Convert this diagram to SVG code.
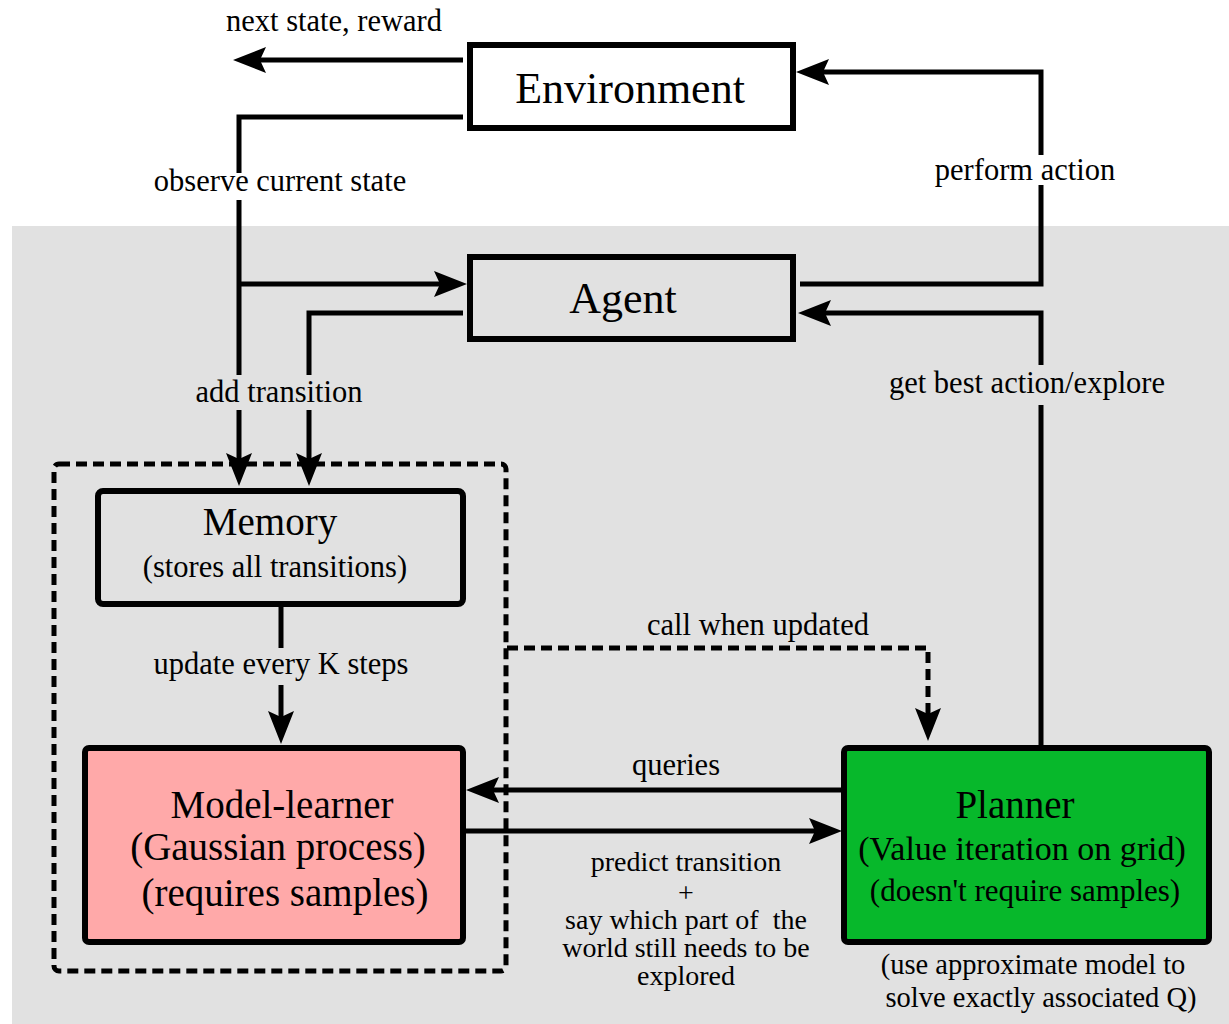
<svg xmlns="http://www.w3.org/2000/svg" width="1229" height="1024" viewBox="0 0 1229 1024">
<defs>
<style>
text{font-family:"Liberation Serif","Times New Roman",serif;fill:#000;text-anchor:middle}
.lbl{font-size:30.5px}
.sm{font-size:28px}
.big{font-size:44px}
.mid{font-size:39px}
.box{stroke:#000;stroke-width:6}
.ln{fill:none;stroke:#000;stroke-width:5}
.dash{fill:none;stroke:#000;stroke-width:5;stroke-dasharray:11 6}
</style>
<marker id="ah" markerUnits="userSpaceOnUse" markerWidth="34" markerHeight="28" viewBox="0 0 34 28" refX="23" refY="14" orient="auto">
<path d="M0,1 L33,14 L0,27 L6,14 z" fill="#000"/>
</marker>
</defs>
<rect x="0" y="0" width="1229" height="1024" fill="#fff"/>
<rect x="12" y="226" width="1217" height="798" fill="#e1e1e1"/>

<g id="connectors">
<line class="ln" x1="463" y1="60" x2="243" y2="60" marker-end="url(#ah)"/>
<polyline class="ln" points="463,117 239,117 239,173"/>
<line class="ln" x1="239" y1="200" x2="239" y2="375"/>
<line class="ln" x1="239" y1="284" x2="457" y2="284" marker-end="url(#ah)"/>
<line class="ln" x1="239" y1="410" x2="239" y2="476" marker-end="url(#ah)"/>
<polyline class="ln" points="463,313 309,313 309,375"/>
<line class="ln" x1="309" y1="410" x2="309" y2="476" marker-end="url(#ah)"/>
<polyline class="ln" points="800,284 1041,284 1041,185"/>
<polyline class="ln" points="1041,155 1041,72 806,72" marker-end="url(#ah)"/>
<line class="ln" x1="1041" y1="747" x2="1041" y2="405"/>
<polyline class="ln" points="1041,365 1041,313 808,313" marker-end="url(#ah)"/>
<line class="ln" x1="281" y1="605" x2="281" y2="648"/>
<line class="ln" x1="281" y1="685" x2="281" y2="734" marker-end="url(#ah)"/>
<polyline class="dash" points="507,648 928,648 928,731" marker-end="url(#ah)"/>
<line class="ln" x1="843" y1="790" x2="476" y2="790" marker-end="url(#ah)"/>
<line class="ln" x1="464" y1="831" x2="832" y2="831" marker-end="url(#ah)"/>
<text class="lbl" x="334" y="31">next state, reward</text>
<text class="lbl" x="280" y="191">observe current state</text>
<text class="lbl" x="1025" y="180">perform action</text>
<text class="lbl" x="279" y="402">add transition</text>
<text class="lbl" x="1027" y="393">get best action/explore</text>
<text class="lbl" x="758" y="635">call when updated</text>
<text class="lbl" x="281" y="674">update every K steps</text>
<text class="lbl" x="676" y="775">queries</text>
<text class="sm" x="686" y="871">predict transition</text>
<text class="sm" x="686" y="902">+</text>
<text class="sm" x="686" y="929" xml:space="preserve">say which part of  the</text>
<text class="sm" x="686" y="957">world still needs to be</text>
<text class="sm" x="686" y="985">explored</text>
</g>

<g id="group-box">
<rect class="dash" x="54" y="464" width="452" height="507" rx="5"/>
</g>

<g id="environment">
<rect class="box" x="470" y="45" width="323" height="83" fill="#fff"/>
<text class="big" x="630" y="103">Environment</text>
</g>

<g id="agent">
<rect class="box" x="470" y="257" width="323" height="82" fill="none"/>
<text class="big" x="623" y="313">Agent</text>
</g>

<g id="memory">
<rect class="box" x="98" y="491" width="365" height="113" rx="5" fill="none"/>
<text class="mid" x="270" y="535">Memory</text>
<text class="lbl" x="275" y="577">(stores all transitions)</text>
</g>

<g id="model-learner">
<rect class="box" x="85" y="748" width="378" height="194" rx="4" fill="#ffa9a9"/>
<text class="mid" x="282" y="818">Model-learner</text>
<text class="mid" x="278" y="860">(Gaussian process)</text>
<text class="mid" x="285" y="906">(requires samples)</text>
</g>

<g id="planner">
<rect class="box" x="844" y="748" width="365" height="194" rx="4" fill="#07b82b"/>
<text class="mid" x="1015" y="818">Planner</text>
<text x="1022" y="860" style="font-size:34px">(Value iteration on grid)</text>
<text x="1025" y="901" style="font-size:31px">(doesn't require samples)</text>
<text x="1033" y="974" style="font-size:28.5px">(use approximate model to</text>
<text x="1041" y="1007" style="font-size:28.5px">solve exactly associated Q)</text>
</g>
</svg>
